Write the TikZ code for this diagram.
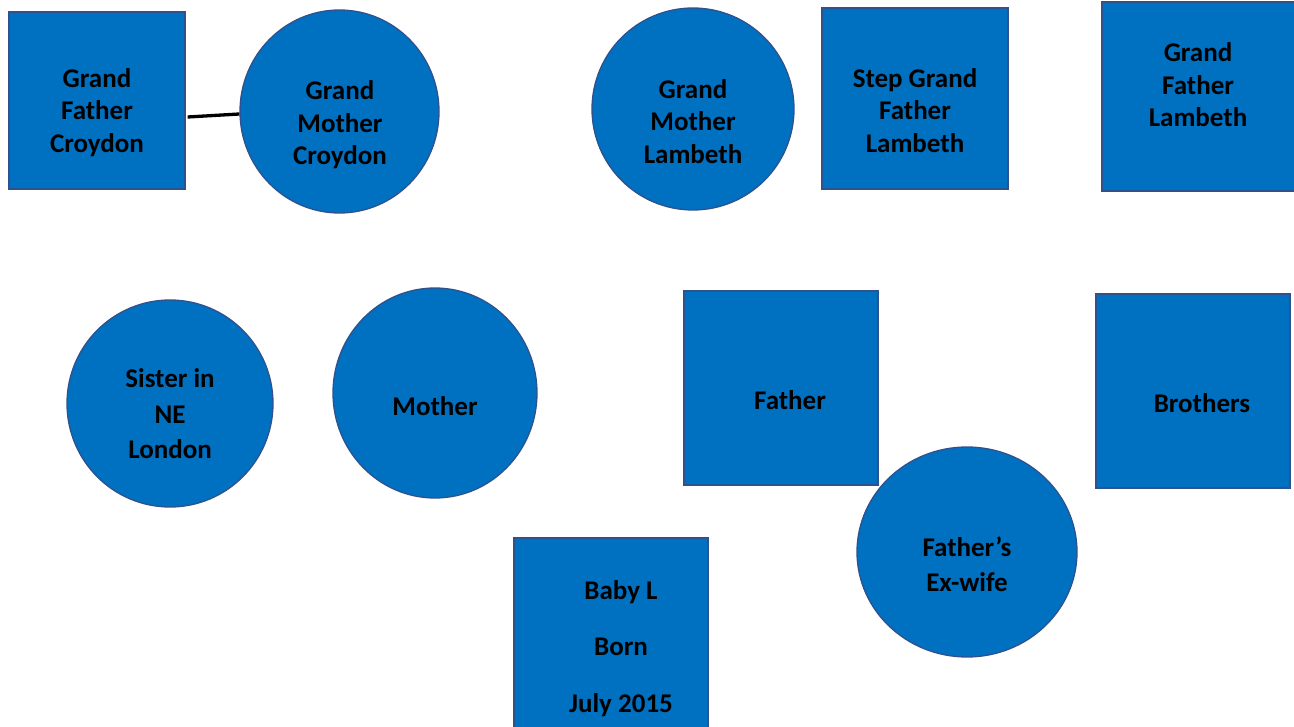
\documentclass[tikz,border=0pt]{standalone}
\usepackage{fontspec}
\setmainfont{Carlito}
\usetikzlibrary{shapes.geometric}

\definecolor{boxblue}{HTML}{0070C0}
\definecolor{edgeblue}{HTML}{2F528F}

\begin{document}
\begin{tikzpicture}[x=1pt, y=-1pt,
    male/.style={rectangle, draw=edgeblue, fill=boxblue,
                 line width=1.3pt, inner sep=0pt},
    female/.style={ellipse, draw=edgeblue, fill=boxblue,
                   line width=1.3pt, inner sep=0pt},
    persontext/.style={align=center, text=black,
                 font=\fontsize{27}{32.5}\selectfont\bfseries}]

   \useasboundingbox (0,0) rectangle (1294,727);

   % grandparents
   \node[male,
         minimum width=176pt,
         minimum height=177pt] (gfc) at (97,100.5) {};
   \node[persontext] (gfctext) at (97,112.5) {Grand\\Father\\Croydon};
   \node[female,
         minimum width=199pt,
         minimum height=203pt] (gmc) at (339.5,111.5) {};
   \node[persontext] (gmctext) at (340,125) {Grand\\Mother\\Croydon};
   \node[female,
         minimum width=202pt,
         minimum height=202pt] (gml) at (693,109) {};
   \node[persontext] (gmltext) at (693,121.5) {Grand\\Mother\\Lambeth};
   \node[male,
         minimum width=186pt,
         minimum height=181pt] (sgfl) at (915,98.5) {};
   \node[persontext] (sgfltext) at (915,110.5) {Step Grand\\Father\\Lambeth};
   \node[male,
         minimum width=193pt,
         minimum height=189pt] (gfl) at (1198.5,96.5) {};
   \node[persontext] (gfltext) at (1198,85) {Grand\\Father\\Lambeth};

   % parents and siblings
   \node[female,
         minimum width=206pt,
         minimum height=207pt] (sis) at (170,403.5) {};
   \node[persontext] (sistext) at (170,414) {Sister in\\[3pt]NE\\[3pt]London};
   \node[female,
         minimum width=204pt,
         minimum height=210pt] (mot) at (435,393) {};
   \node[persontext] (mottext) at (435,406) {Mother};
   \node[male,
         minimum width=194pt,
         minimum height=194pt] (fat) at (781,388) {};
   \node[persontext] (fattext) at (790,400) {Father};
   \node[male,
         minimum width=194pt,
         minimum height=194pt] (bro) at (1193,391) {};
   \node[persontext] (brotext) at (1202,403) {Brothers};
   \node[female,
         minimum width=220pt,
         minimum height=210pt] (exw) at (967,552) {};
   \node[persontext] (exwtext) at (967,564) {Father’s\\[2.5pt]Ex-wife};

   % child
   \node[male,
         minimum width=194pt,
         minimum height=220pt] (baby) at (611,648) {};
   \node[persontext] (babytext) at (621,648.5) {Baby L\\[24pt]Born\\[24pt]July 2015};

   % couple line
   \draw[line width=3.3pt, black]
       ([xshift=2pt, yshift=-16.5pt]gfc.east) -- ([yshift=-2.5pt]gmc.west);
\end{tikzpicture}
\end{document}
